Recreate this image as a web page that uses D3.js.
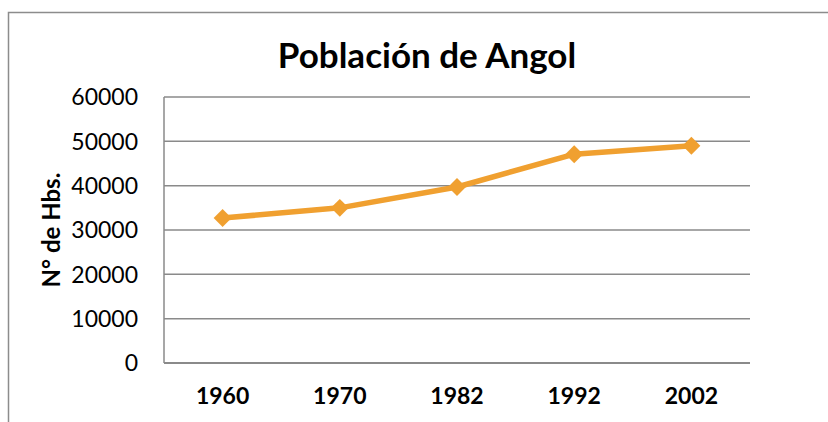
<!DOCTYPE html>
<html>
<head>
<meta charset="utf-8">
<script src="https://cdn.jsdelivr.net/npm/d3@7"></script>
<style>
  body { margin: 0; background: #fff; }
  text { font-family: "Lato", sans-serif; fill: #000; }
</style>
</head>
<body>
<div id="container"></div>
<script>
// chart data
var years = ['1960', '1970', '1982', '1992', '2002'];
var population = [32700, 35000, 39700, 47100, 49000];
var yTicks = [0, 10000, 20000, 30000, 40000, 50000, 60000];

var width = 828, height = 422;
var plot = {left: 164, right: 750, top: 97, bottom: 363};

var svg = d3.select('#container').append('svg')
    .attr('width', width)
    .attr('height', height);

// outer chart frame (runs off the page on right and bottom)
svg.append('rect')
    .attr('x', 8.5).attr('y', 12.5)
    .attr('width', 900).attr('height', 500)
    .attr('fill', 'none')
    .attr('stroke', '#8c8c8c')
    .attr('stroke-width', 1.5);

var x = d3.scaleBand().domain(years).range([plot.left, plot.right]);
var y = d3.scaleLinear().domain([0, 60000]).range([plot.bottom, plot.top]);

// gridlines
svg.append('g').selectAll('line')
    .data(yTicks)
  .enter().append('line')
    .attr('x1', plot.left).attr('x2', plot.right)
    .attr('y1', function(d) { return y(d); })
    .attr('y2', function(d) { return y(d); })
    .attr('stroke', '#8a8a8a')
    .attr('stroke-width', function(d) { return d === 0 ? 2 : 1.5; });

// left axis line
svg.append('line')
    .attr('x1', plot.left).attr('x2', plot.left)
    .attr('y1', plot.top).attr('y2', plot.bottom)
    .attr('stroke', '#8a8a8a')
    .attr('stroke-width', 1.5);

// y tick labels
svg.append('g').selectAll('text')
    .data(yTicks)
  .enter().append('text')
    .attr('x', 138)
    .attr('y', function(d) { return y(d); })
    .attr('dy', '0.36em')
    .attr('text-anchor', 'end')
    .style('font-size', '23px')
    .text(function(d) { return d; });

// x labels
svg.append('g').selectAll('text')
    .data(years)
  .enter().append('text')
    .attr('x', function(d) { return x(d) + x.bandwidth() / 2; })
    .attr('y', 404)
    .attr('text-anchor', 'middle')
    .style('font-size', '23px')
    .style('font-weight', 'bold')
    .text(function(d) { return d; });

// title
svg.append('text')
    .attr('x', 427).attr('y', 68)
    .attr('text-anchor', 'middle')
    .style('font-size', '35px')
    .style('font-weight', 'bold')
    .text('Población de Angol');

// y axis title
svg.append('text')
    .attr('transform', 'translate(60,230) rotate(-90)')
    .attr('text-anchor', 'middle')
    .style('font-size', '24px')
    .style('font-weight', 'bold')
    .text('N° de Hbs.');

// series line
var line = d3.line()
    .x(function(d, i) { return x(years[i]) + x.bandwidth() / 2; })
    .y(function(d) { return y(d); });

svg.append('path')
    .datum(population)
    .attr('d', line)
    .attr('fill', 'none')
    .attr('stroke', '#F0A030')
    .attr('stroke-width', 5.5)
    .attr('stroke-linejoin', 'round');

// diamond markers
var diamond = d3.symbol().type(d3.symbolSquare).size(160);
svg.append('g').selectAll('path')
    .data(population)
  .enter().append('path')
    .attr('d', diamond)
    .attr('transform', function(d, i) {
        return 'translate(' + (x(years[i]) + x.bandwidth() / 2) + ',' + y(d) + ') rotate(45)';
    })
    .attr('fill', '#F0A030');
</script>
</body>
</html>
